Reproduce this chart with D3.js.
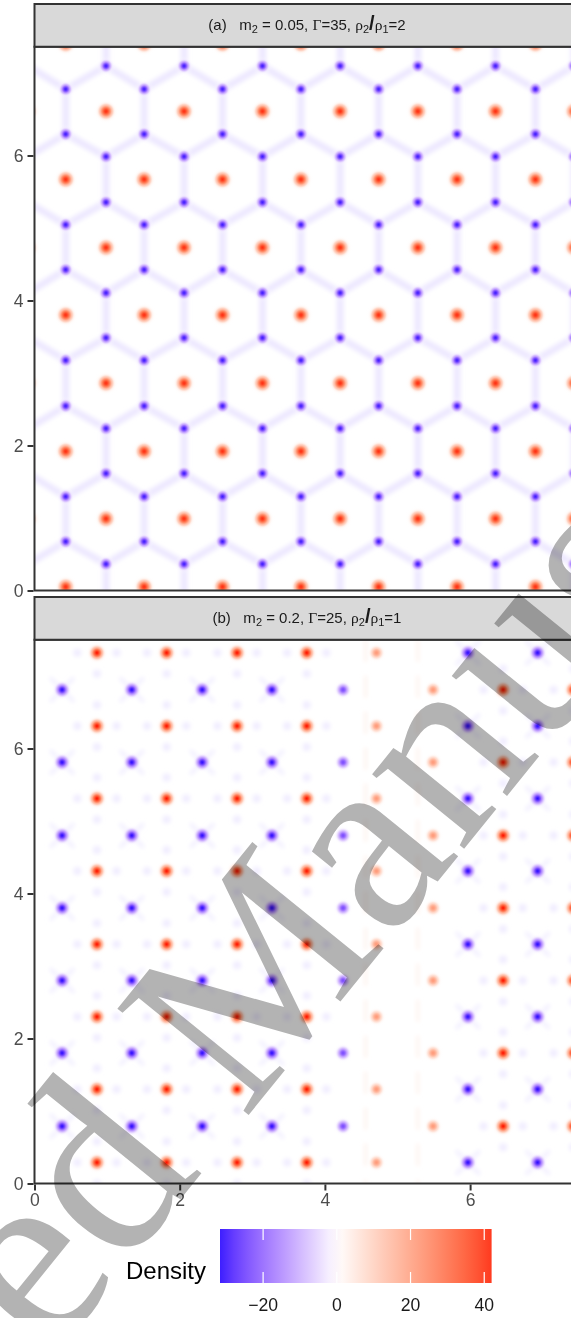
<!DOCTYPE html>
<html>
<head>
<meta charset="utf-8">
<script src="https://cdn.jsdelivr.net/npm/d3@7"></script>
<style>
  body { margin: 0; background: #fff; }
  svg { display: block; font-family: "Liberation Sans", Arial, sans-serif; }
</style>
</head>
<body>
<div id="chart"></div>
<script>
// ---- panel (a): honeycomb lattice, positions (data units)
const redRowsAEven = [0.05, 1.92, 3.80, 5.67, 7.54];
const redRowsAOdd = [0.99, 2.86, 4.73, 6.61];
const colsAEven = [0.43, 1.51, 2.59, 3.67, 4.74, 5.82, 6.90];
const colsAOdd = [-0.09, 0.985, 2.06, 3.14, 4.21, 5.28, 6.35, 7.43];
const blueRowsAEven = [0.675, 1.295, 2.545, 3.175, 4.425, 5.045, 6.295, 6.915];
const blueRowsAOdd = [-0.26, 0.365, 1.615, 2.235, 3.485, 4.105, 5.355, 5.985, 7.235, 7.86];

// ---- panel (b): two domains with a wall near x = 4.5..5.5
const redRowsB = [0.29, 1.30, 2.30, 3.30, 4.31, 5.31, 6.31, 7.32];
const blueRowsB = [0.79, 1.80, 2.80, 3.80, 4.80, 5.81, 6.81];
const redColsB = [0.86, 1.82, 2.79, 3.75];
const blueColsB = [0.38, 1.34, 2.31, 3.27];
const wallRedColsB = [4.71];
const wallBlueColsB = [4.25];
const blueColsB2 = [5.97, 6.93];   // right domain, on the red rows
const redColsB2 = [6.455, 7.42];   // right domain, on the blue rows
const wallRedColsB2 = [5.49];
const wallRippleColsB = [4.56, 5.28];

// peak densities
const peakRedA = 40, peakBlueA = -30;
const peakRedB = 42, peakBlueB = -31;
const peakWallRed = 22, peakWallBlue = -24;

// colour bar
const densityLimits = [-31.7, 42];
const densityTicks = [-20, 0, 20, 40];

const yTicks = [0, 2, 4, 6];
const xTicks = [0, 2, 4, 6];

const W = 571, H = 1318;
const svg = d3.select('#chart').append('svg').attr('width', W).attr('height', H);
const defs = svg.append('defs');

const color = d3.scaleLinear()
  .domain([densityLimits[0], 0, densityLimits[1]])
  .range(['#3d1eff', '#ffffff', '#ff3a1f'])
  .interpolate(d3.interpolateLab)
  .clamp(true);
// dot cores are a touch deeper than the bar ends
const coreColor = d3.scaleLinear()
  .domain([densityLimits[0], 0, densityLimits[1]])
  .range(['#1a00ff', '#ffffff', '#ff1000'])
  .interpolate(d3.interpolateLab)
  .clamp(true);

const x = d3.scaleLinear().domain([0, 7.5]).range([34.5, 579]);

const grid = (rows, cols, type) => rows.flatMap(r => cols.map(c => ({ x: c, y: r, type })));

const redA = grid(redRowsAEven, colsAEven, 'aRed').concat(grid(redRowsAOdd, colsAOdd, 'aRed'));
const blueA = grid(blueRowsAEven, colsAEven, 'aBlue').concat(grid(blueRowsAOdd, colsAOdd, 'aBlue'));
const dotsB = [].concat(
  grid(redRowsB, redColsB, 'bRed'),
  grid(blueRowsB, blueColsB, 'bBlue'),
  grid(redRowsB, wallRedColsB, 'bWallRed'),
  grid(blueRowsB, wallBlueColsB, 'bWallBlue'),
  grid(redRowsB, blueColsB2, 'bBlue'),
  grid(blueRowsB, redColsB2, 'bRed'),
  grid(blueRowsB, wallRedColsB2, 'bWallRed')
);

const dotStyle = {
  aRed: { peak: peakRedA, r: 14, s: 0.42 },
  aBlue: { peak: peakBlueA, r: 13, s: 0.34 },
  bRed: { peak: peakRedB, r: 12, s: 0.45 },
  bBlue: { peak: peakBlueB, r: 13, s: 0.4 },
  bWallRed: { peak: peakWallRed, r: 11, s: 0.45 },
  bWallBlue: { peak: peakWallBlue, r: 12, s: 0.4 }
};

// radial gradients, one per dot type
Object.entries(dotStyle).forEach(([k, st]) => {
  const g = defs.append('radialGradient').attr('id', 'g-' + k);
  d3.range(0, 1.0001, 0.1).forEach(t => {
    const f = Math.exp(-(t / st.s) * (t / st.s));
    g.append('stop')
      .attr('offset', t)
      .attr('stop-color', (f > 0.6 ? coreColor : color)(st.peak * f))
      .attr('stop-opacity', t >= 1 ? 0 : Math.min(1, f * 4));
  });
});

const blur = defs.append('filter').attr('id', 'soft').attr('x', '-20%').attr('y', '-20%')
  .attr('width', '140%').attr('height', '140%');
blur.append('feGaussianBlur').attr('stdDeviation', 2.2);

const panels = [
  { key: 'a', top: 46.75, bottom: 590.5, stripTop: 4 },
  { key: 'b', top: 639.75, bottom: 1183.5, stripTop: 597 }
];

panels.forEach(p => {
  const y = d3.scaleLinear().domain([0, 7.5]).range([p.bottom, p.top]);
  defs.append('clipPath').attr('id', 'clip-' + p.key)
    .append('rect').attr('x', x(0)).attr('y', p.top).attr('width', x(7.5) - x(0)).attr('height', p.bottom - p.top);

  const g = svg.append('g').attr('clip-path', `url(#clip-${p.key})`);
  g.append('rect').attr('x', x(0)).attr('y', p.top).attr('width', x(7.5) - x(0)).attr('height', p.bottom - p.top)
    .attr('fill', '#fff');

  if (p.key === 'a') {
    // faint negative ridges along the honeycomb edges
    const edges = [];
    blueA.forEach((b, j) => blueA.forEach((c, k) => {
      if (k > j && Math.hypot(b.x - c.x, b.y - c.y) < 0.7) edges.push([b, c]);
    }));
    g.append('g').attr('filter', 'url(#soft)')
      .selectAll('line').data(edges).join('line')
      .attr('x1', d => x(d[0].x)).attr('y1', d => y(d[0].y))
      .attr('x2', d => x(d[1].x)).attr('y2', d => y(d[1].y))
      .attr('stroke', '#ede8ff').attr('stroke-width', 7).attr('stroke-linecap', 'round');

    g.selectAll('circle.dot').data(redA.concat(blueA)).join('circle')
      .attr('class', 'dot')
      .attr('cx', d => x(d.x)).attr('cy', d => y(d.y))
      .attr('r', d => dotStyle[d.type].r)
      .attr('fill', d => `url(#g-${d.type})`);
  } else {
    // faint lavender satellites around each red site, X-shaped halo around blue
    const reds = dotsB.filter(d => d.type === 'bRed');
    const blues = dotsB.filter(d => d.type === 'bBlue');
    const sat = reds.flatMap(d => [[-0.27, 0], [0.27, 0], [0, -0.29], [0, 0.29]].map(o => ({ x: d.x + o[0], y: d.y + o[1] })));
    g.append('g').attr('filter', 'url(#soft)')
      .selectAll('circle').data(sat).join('circle')
      .attr('cx', d => x(d.x)).attr('cy', d => y(d.y)).attr('r', 4)
      .attr('fill', '#f0ecff');
    g.append('g').attr('filter', 'url(#soft)')
      .selectAll('path').data(blues).join('path')
      .attr('d', d => {
        const cx = x(d.x), cy = y(d.y), k = 12;
        return `M${cx - k},${cy - k}L${cx + k},${cy + k}M${cx - k},${cy + k}L${cx + k},${cy - k}`;
      })
      .attr('stroke', '#f1eeff').attr('stroke-width', 3.5);
    // faint ripples along the domain wall
    g.append('g').attr('filter', 'url(#soft)')
      .selectAll('line').data(wallRippleColsB).join('line')
      .attr('x1', d => x(d)).attr('x2', d => x(d)).attr('y1', p.top).attr('y2', p.bottom)
      .attr('stroke', '#fdf0ea').attr('stroke-width', 2.5).attr('stroke-dasharray', '22 14');

    g.selectAll('circle.dot').data(dotsB).join('circle')
      .attr('class', 'dot')
      .attr('cx', d => x(d.x)).attr('cy', d => y(d.y))
      .attr('r', d => dotStyle[d.type].r)
      .attr('fill', d => `url(#g-${d.type})`);
  }

  // panel border
  svg.append('rect')
    .attr('x', x(0)).attr('y', p.top).attr('width', 700).attr('height', p.bottom - p.top)
    .attr('fill', 'none').attr('stroke', '#333').attr('stroke-width', 2);

  // strip
  svg.append('rect')
    .attr('x', x(0)).attr('y', p.stripTop).attr('width', 700).attr('height', p.top - p.stripTop)
    .attr('fill', '#d9d9d9').attr('stroke', '#333').attr('stroke-width', 2);

  // y axis
  const ya = svg.append('g').attr('transform', `translate(${x(0) - 1},0)`)
    .call(d3.axisLeft(y).tickValues(yTicks).tickSize(6).tickPadding(4).tickFormat(d3.format('d')));
  ya.select('.domain').remove();
  ya.selectAll('line').attr('stroke', '#333').attr('stroke-width', 2);
  ya.selectAll('text').attr('fill', '#4d4d4d').style('font-size', '17.6px')
    .style('font-family', '"Liberation Sans", Arial, sans-serif');
});

// strip labels
const stripParts = [
  [['(a)   m', 0], ['2', 1], [' = 0.05, ', 0], ['Γ', 2], ['=35, ', 0], ['ρ', 2], ['2', 1], ['/', 3], ['ρ', 2], ['1', 1], ['=2', 0]],
  [['(b)   m', 0], ['2', 1], [' = 0.2, ', 0], ['Γ', 2], ['=25, ', 0], ['ρ', 2], ['2', 1], ['/', 3], ['ρ', 2], ['1', 1], ['=1', 0]]
];
panels.forEach((p, i) => {
  const t = svg.append('text')
    .attr('x', 307).attr('y', (p.stripTop + p.top) / 2 + 5)
    .attr('text-anchor', 'middle')
    .style('white-space', 'pre')
    .style('font-size', '15px').attr('fill', '#1a1a1a');
  let sub = false;
  stripParts[i].forEach(([s, kind]) => {
    const ts = t.append('tspan').text(s);
    if (kind === 1) { ts.attr('dy', 3).style('font-size', '11px'); sub = true; }
    else if (sub) { ts.attr('dy', -3); sub = false; }
    if (kind === 2) ts.style('font-family', '"Liberation Serif", serif').style('font-size', '15.5px');
    if (kind === 3) ts.style('font-weight', 'bold').style('font-size', '20px');
  });
});

// x axis under panel (b)
const pb = panels[1];
const xa = svg.append('g').attr('transform', `translate(0,${pb.bottom + 1})`)
  .call(d3.axisBottom(x).tickValues(xTicks).tickSize(6).tickPadding(3).tickFormat(d3.format('d')));
xa.select('.domain').remove();
xa.selectAll('line').attr('stroke', '#333').attr('stroke-width', 2);
xa.selectAll('text').attr('fill', '#4d4d4d').style('font-size', '17.6px')
  .style('font-family', '"Liberation Sans", Arial, sans-serif');

// colour bar legend
const lx = d3.scaleLinear().domain(densityLimits).range([220, 491.6]);
const lg = defs.append('linearGradient').attr('id', 'legend-grad');
d3.range(0, 1.0001, 0.05).forEach(t => {
  lg.append('stop').attr('offset', t).attr('stop-color', color(lx.invert(220 + t * (491.6 - 220))));
});
const barTop = 1229, barH = 54;
svg.append('rect').attr('x', 220).attr('y', barTop).attr('width', 491.6 - 220).attr('height', barH)
  .attr('fill', 'url(#legend-grad)');
const lt = svg.append('g');
densityTicks.forEach(v => {
  lt.append('line').attr('x1', lx(v)).attr('x2', lx(v)).attr('y1', barTop).attr('y2', barTop + 11)
    .attr('stroke', '#fff').attr('stroke-width', 1.2);
  lt.append('line').attr('x1', lx(v)).attr('x2', lx(v)).attr('y1', barTop + barH - 11).attr('y2', barTop + barH)
    .attr('stroke', '#fff').attr('stroke-width', 1.2);
});
svg.append('g').selectAll('text').data(densityTicks).join('text')
  .attr('x', d => lx(d)).attr('y', 1311)
  .attr('text-anchor', 'middle').style('font-size', '17.6px').attr('fill', '#1a1a1a')
  .text(d3.format('d'));
svg.append('text').attr('x', 206).attr('y', 1279).attr('text-anchor', 'end')
  .style('font-size', '24px').attr('fill', '#000').text('Density');

// watermark
const wmAngle = -51, wmSize = 258, mCenter = [250, 978];
const wm = svg.append('text')
  .attr('font-family', '"Liberation Serif", "Times New Roman", serif')
  .style('font-size', wmSize + 'px')
  .attr('fill', '#b3b3b3')
  .style('mix-blend-mode', 'multiply')
  .style('white-space', 'pre')
  .text('Accepted Manuscript');
const node = wm.node();
const before = node.getSubStringLength(0, 9);
const mW = node.getSubStringLength(9, 1);
const a = wmAngle * Math.PI / 180;
const along = before + mW / 2, up = 0.33 * wmSize;
const ox = along * Math.cos(a) + up * Math.sin(a);
const oy = along * Math.sin(a) - up * Math.cos(a);
wm.attr('transform', `translate(${mCenter[0] - ox},${mCenter[1] - oy}) rotate(${wmAngle})`);
</script>
</body>
</html>
